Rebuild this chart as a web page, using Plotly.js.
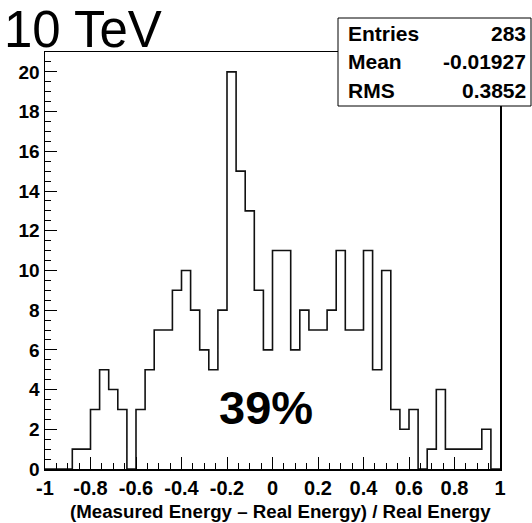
<!DOCTYPE html>
<html>
<head>
<meta charset="utf-8">
<script src="https://cdn.plot.ly/plotly-3.0.1.min.js"></script>
<style>html,body{margin:0;padding:0;background:#fff;}#chart{width:532px;height:523px;}</style>
</head>
<body>
<div id="chart"></div>
<script>
// Histogram: 50 bins from -1 to 1 (width 0.04)
var binLow = -1;
var binWidth = 0.04;
var counts = [0,0,0,1,1,3,5,4,3,0,
              3,5,7,7,9,10,8,6,5,8,
              20,15,13,9,6,11,11,6,8,7,
              7,8,11,7,7,11,5,10,3,2,
              3,0,1,4,1,1,1,1,2,0];
var xTickVals = [-1,-0.8,-0.6,-0.4,-0.2,0,0.2,0.4,0.6,0.8,1];
var xTickText = ["-1","-0.8","-0.6","-0.4","-0.2","0","0.2","0.4","0.6","0.8","1"];
var yTickVals = [0,2,4,6,8,10,12,14,16,18,20];
var statLabels = ["Entries","Mean","RMS"];
var statValues = ["283","-0.01927","0.3852"];
var xTitle = "(Measured Energy \u2013 Real Energy) / Real Energy";

var edges = [];
for (var i = 0; i <= counts.length; i++) edges.push(+(binLow + i*binWidth).toFixed(4));
var ys = counts.concat([0]);

var trace = {
  x: edges, y: ys, type: 'scatter', mode: 'lines',
  line: {shape: 'hv', color: '#111', width: 1.6},
  hoverinfo: 'none', showlegend: false
};

var F = "Liberation Sans, Arial, Helvetica, sans-serif";
var L = 45, R = 500, T = 52, B = 469;
function px(x){ return (x - L)/(R - L); }
function py(y){ return (B - y)/(B - T); }

var annotations = [
  {text: "10 TeV", xref:'paper', yref:'paper', x: px(2), y: py(-1), xanchor:'left', yanchor:'top',
   showarrow:false, font:{family:F, size:51, color:'#000'}},
  {text: "39%", xref:'paper', yref:'paper', x: px(266), y: py(407), xanchor:'center', yanchor:'middle',
   showarrow:false, font:{family:F, size:47, color:'#000', weight:'bold'}},
  {text: xTitle, xref:'paper', yref:'paper', x: px(280), y: py(511), xanchor:'center', yanchor:'middle',
   showarrow:false, font:{family:F, size:18.7, color:'#000', weight:'bold'}}
];
var rowY = [33, 62, 91];
for (var k = 0; k < statLabels.length; k++) {
  annotations.push({text: statLabels[k], xref:'paper', yref:'paper', x: px(346), y: py(rowY[k]),
    xanchor:'left', yanchor:'middle', showarrow:false, font:{family:F, size:21, color:'#000', weight:'bold'}});
  annotations.push({text: statValues[k], xref:'paper', yref:'paper', x: px(528), y: py(rowY[k]),
    xanchor:'right', yanchor:'middle', showarrow:false, font:{family:F, size:21, color:'#000', weight:'bold'}});
}

var layout = {
  width: 532, height: 523,
  margin: {l: L, r: 532 - R, t: T, b: 523 - B},
  paper_bgcolor: '#fff', plot_bgcolor: '#fff',
  showlegend: false,
  xaxis: {
    range: [-1, 1], showgrid: false, zeroline: false,
    showline: true, mirror: true, linecolor: '#000', linewidth: 1.5,
    ticks: 'inside', ticklen: 12, tickwidth: 1, tickcolor: '#000',
    tickvals: xTickVals, ticktext: xTickText,
    minor: {dtick: 0.05, ticks: 'inside', ticklen: 6, tickcolor: '#000', tickwidth: 1, showgrid: false},
    tickfont: {family: F, size: 20, color: '#000', weight: 'bold'}
  },
  yaxis: {
    range: [0, 21], showgrid: false, zeroline: false,
    showline: true, mirror: true, linecolor: '#000', linewidth: 1.5,
    ticks: 'inside', ticklen: 12, tickwidth: 1, tickcolor: '#000',
    tickvals: yTickVals,
    minor: {dtick: 0.5, ticks: 'inside', ticklen: 6, tickcolor: '#000', tickwidth: 1, showgrid: false},
    tickfont: {family: F, size: 19, color: '#000', weight: 'bold'}
  },
  shapes: [
    {type: 'rect', xref:'paper', yref:'paper', x0: px(338), x1: px(531), y0: py(106), y1: py(18),
     line: {color: '#000', width: 1}, fillcolor: '#fff', layer: 'above'}
  ],
  annotations: annotations
};

Plotly.newPlot('chart', [trace], layout, {staticPlot: true, displayModeBar: false});
</script>
</body>
</html>
